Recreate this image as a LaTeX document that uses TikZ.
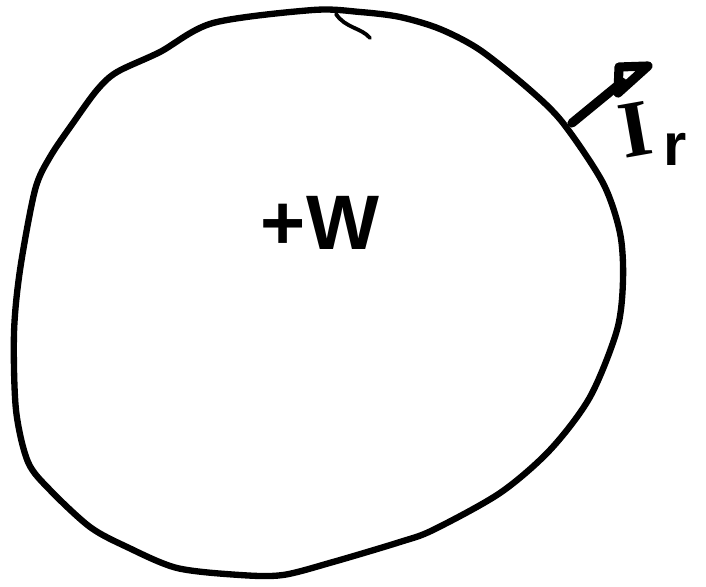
\documentclass[tikz,border=0pt]{standalone}
\usepackage{fontspec}
\setmainfont{Liberation Sans}
\newfontfamily\serifI{Liberation Serif}
\begin{document}
\begin{tikzpicture}[x=0.02cm,y=-0.02cm,
  ink/.style={line width=3.6pt, line cap=round, line join=round},
  bold ink/.style={line width=5.2pt, line cap=round, line join=round},
  lbl/.style={inner sep=0pt, font=\bfseries\fontsize{44}{48}\selectfont}]
\useasboundingbox (0,0) rectangle (706,587);
% hand-drawn circle
\draw[ink] plot[smooth cycle, tension=0.5] coordinates {
  (313,10) (360,12) (400,17) (440,29) (480,50) (530,90) (563,123)
  (603,183) (620,233) (623,280) (617,330) (590,397) (550,450)
  (500,493) (433,530) (400,542) (333,562) (283,575) (240,575)
  (177,568) (127,547) (90,527) (50,490) (28,462) (16,410) (14,333)
  (20,270) (35,190) (50,157) (73,123) (97,90) (117,72) (160,52)
  (213,23)};
% small tick at top
\draw[line width=2.2pt, line cap=round] (336,14) .. controls (345,28) and (362,28) .. (370,38);
% centre label
\node[lbl] (w) at (320,223) {+W};
% arrow
\coordinate (a0) at (572,123);
\coordinate (a1) at (622,82);
\draw[bold ink] (a0) -- (a1);
\draw[bold ink] (619,67) -- (648,66) -- (618,93) -- cycle;
% label I_r
\node[inner sep=0pt, rotate=10, font=\serifI\bfseries\fontsize{46}{50}\selectfont] (I) at (635,130) {I};
\node[inner sep=0pt, font=\bfseries\fontsize{34}{36}\selectfont] (r) at (675,149) {r};
\end{tikzpicture}
\end{document}
